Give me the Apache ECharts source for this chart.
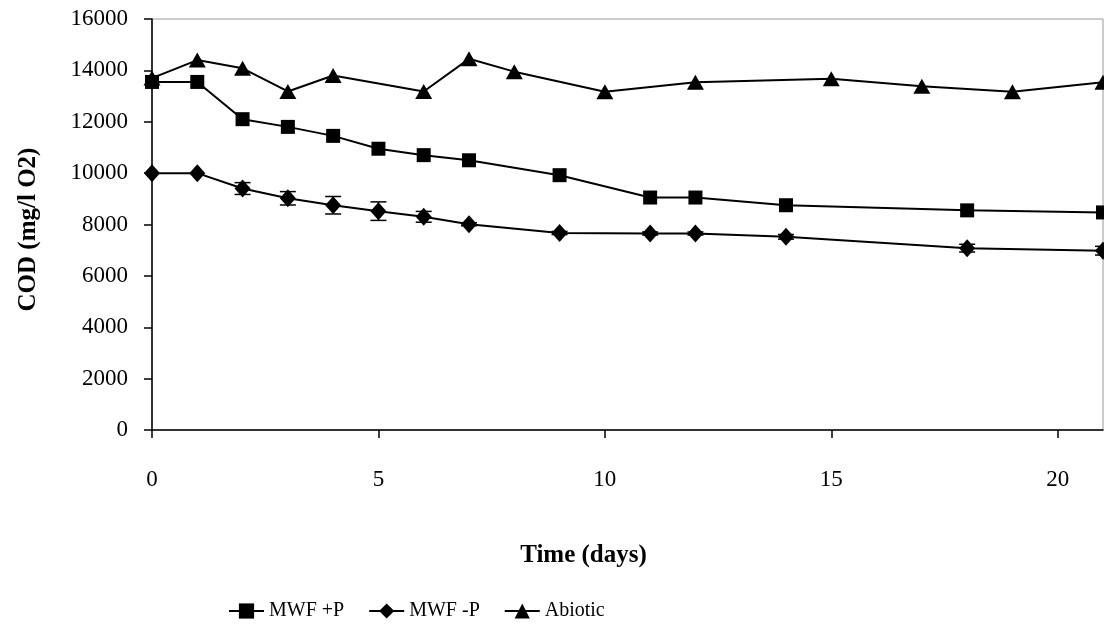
<!DOCTYPE html>
<html>
<head>
<meta charset="utf-8">
<script src="https://cdn.jsdelivr.net/npm/echarts@6/dist/echarts.min.js"></script>
<style>
    html, body { margin: 0; padding: 0; background: #fff; }
    #mainChart { width: 1104px; height: 628px; }
</style>
</head>
<body>
<div id="mainChart"></div>
<script>
// MWF +P (squares)
var plusDays = [0, 1, 2, 3, 4, 5, 6, 7, 9, 11, 12, 14, 18, 21];
var plusCod = [13550, 13550, 12100, 11800, 11450, 10950, 10700, 10500, 9920, 9050, 9050, 8750, 8550, 8470];
// MWF -P (diamonds) with error
var minusDays = [0, 1, 2, 3, 4, 5, 6, 7, 9, 11, 12, 14, 18, 21];
var minusCod = [10000, 10000, 9400, 9020, 8750, 8520, 8300, 8010, 7670, 7650, 7650, 7520, 7080, 6980];
var minusErr = [0, 0, 230, 260, 340, 360, 210, 60, 60, 60, 60, 90, 150, 170];
// Abiotic (triangles)
var abioDays = [0, 1, 2, 3, 4, 6, 7, 8, 10, 12, 15, 17, 19, 21];
var abioCod = [13700, 14400, 14080, 13180, 13800, 13180, 14450, 13950, 13170, 13540, 13670, 13380, 13170, 13540];
var yTicks = [0, 2000, 4000, 6000, 8000, 10000, 12000, 14000, 16000];

function pairs(xs, ys) {
    var out = [];
    for (var i = 0; i < xs.length; i++) out.push([xs[i], ys[i]]);
    return out;
}
var errRows = [];
for (var i = 0; i < minusDays.length; i++) {
    if (minusErr[i] > 0) errRows.push([minusDays[i], minusCod[i] - minusErr[i], minusCod[i] + minusErr[i]]);
}

var font = "'Liberation Serif', 'Times New Roman', serif";
var n = echarts.init(document.getElementById("mainChart"));
n.setOption({
    backgroundColor: "#fff",
    animation: false,
    textStyle: { fontFamily: font, color: "#000" },
    grid: {
        left: 152, right: 1, top: 19, bottom: 198,
        show: true, borderColor: "#999", borderWidth: 1, containLabel: false
    },
    legend: {
        top: 596, left: 223,
        itemWidth: 35, itemHeight: 19, itemGap: 24,
        textStyle: { fontFamily: font, fontSize: 20, color: "#000" },
        data: ["MWF +P", "MWF -P", "Abiotic"]
    },
    xAxis: {
        type: "value", min: 0, max: 21, interval: 5,
        name: "Time (days)", nameLocation: "middle", nameGap: 113,
        nameTextStyle: { fontFamily: font, fontSize: 25, fontWeight: "bold", color: "#000", padding: [0, 88, 0, 0] },
        axisLine: { lineStyle: { color: "#000", width: 1.5 } },
        axisTick: { show: true, inside: false, length: 8, lineStyle: { color: "#000", width: 1.5 } },
        axisLabel: { margin: 38, fontSize: 23, fontFamily: font, color: "#000", showMaxLabel: false },
        splitLine: { show: false }
    },
    yAxis: {
        type: "value", min: yTicks[0], max: yTicks[yTicks.length - 1], interval: 2000,
        name: "COD (mg/l O2)", nameLocation: "middle", nameGap: 111,
        nameTextStyle: { fontFamily: font, fontSize: 25, fontWeight: "bold", color: "#000", padding: [0, 10, 0, 0] },
        axisLine: { show: true, lineStyle: { color: "#000", width: 1.5 } },
        axisTick: { show: true, inside: false, length: 8, lineStyle: { color: "#000", width: 1.5 } },
        axisLabel: {
            margin: 24, fontSize: 23, fontFamily: font, color: "#000",
            formatter: function (v) { return String(v); }
        },
        splitLine: { show: false }
    },
    series: [{
        name: "MWF -P err", type: "custom", z: 1,
        renderItem: function (params, api) {
            var x = api.value(0);
            var lo = api.coord([x, api.value(1)]);
            var hi = api.coord([x, api.value(2)]);
            var w = 8;
            var st = { stroke: "#000", lineWidth: 1.5 };
            return {
                type: "group",
                children: [
                    { type: "line", shape: { x1: lo[0], y1: lo[1], x2: hi[0], y2: hi[1] }, style: st },
                    { type: "line", shape: { x1: lo[0] - w, y1: lo[1], x2: lo[0] + w, y2: lo[1] }, style: st },
                    { type: "line", shape: { x1: hi[0] - w, y1: hi[1], x2: hi[0] + w, y2: hi[1] }, style: st }
                ]
            };
        },
        encode: { x: 0, y: [1, 2] },
        data: errRows
    }, {
        name: "MWF +P", type: "line", symbol: "rect", symbolSize: 14, z: 3,
        lineStyle: { color: "#000", width: 2 }, itemStyle: { color: "#000" },
        data: pairs(plusDays, plusCod)
    }, {
        name: "MWF -P", type: "line", symbol: "diamond", symbolSize: [16, 18], z: 3,
        lineStyle: { color: "#000", width: 2 }, itemStyle: { color: "#000" },
        data: pairs(minusDays, minusCod)
    }, {
        name: "Abiotic", type: "line", symbol: "triangle", symbolSize: [17, 15], z: 3,
        lineStyle: { color: "#000", width: 2 }, itemStyle: { color: "#000" },
        data: pairs(abioDays, abioCod)
    }]
});
</script>
</body>
</html>
